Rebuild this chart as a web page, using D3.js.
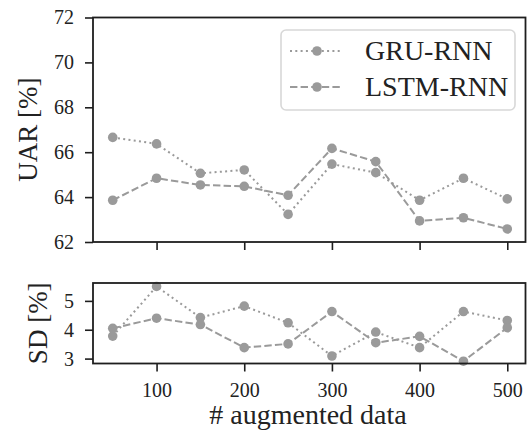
<!DOCTYPE html>
<html>
<head>
<meta charset="utf-8">
<script src="https://cdn.jsdelivr.net/npm/d3@7"></script>
<style>
  body { margin: 0; background: #fff; }
</style>
</head>
<body>
<script>
const augmented = [50, 100, 150, 200, 250, 300, 350, 400, 450, 500];
const gruUar = [66.66, 66.37, 65.06, 65.21, 63.23, 65.47, 65.09, 63.86, 64.84, 63.92];
const lstmUar = [63.86, 64.84, 64.54, 64.48, 64.08, 66.17, 65.58, 62.94, 63.08, 62.58];
const gruSd = [3.78, 5.5, 4.42, 4.82, 4.24, 3.09, 3.92, 3.38, 4.63, 4.32];
const lstmSd = [4.05, 4.4, 4.18, 3.38, 3.51, 4.63, 3.55, 3.77, 2.91, 4.07];
const uarTicks = [62, 64, 66, 68, 70, 72];
const sdTicks = [3, 4, 5];
const xTicks = [100, 200, 300, 400, 500];
const seriesNames = ["GRU-RNN", "LSTM-RNN"];

const width = 527;
const height = 434;
const fontFamily = "Liberation Serif";
const lineColor = "#9a9a9a";
const spineColor = "#1e1e1e";
const textColor = "#222";
const dotDash = "2,3.3";
const longDash = "7.4,3.2";

const svg = d3
  .select("body")
  .append("svg")
  .attr("width", width)
  .attr("height", height)
  .attr("font-family", fontFamily);

const xScale = d3.scaleLinear().domain([27.5, 522.5]).range([93, 527]);
const yTop = d3.scaleLinear().domain([62, 72]).range([242, 17.5]);
const yBottom = d3.scaleLinear().domain([2.83, 5.62]).range([363.5, 283]);

const styleTicks = (sel) => {
  sel.select(".domain").remove();
  sel.selectAll("line").attr("stroke", spineColor).attr("stroke-width", 1.6);
  sel
    .selectAll("text")
    .attr("font-family", fontFamily)
    .attr("font-size", 20)
    .attr("fill", textColor);
};

const drawPanel = (yScale, yTicks, series, showXLabels) => {
  const [y0, y1] = yScale.range();
  const g = svg.append("g");

  // series first, frame on top
  series.forEach((s) => {
    const line = d3
      .line()
      .x((d, i) => xScale(augmented[i]))
      .y((d) => yScale(d));
    g.append("path")
      .datum(s.values)
      .attr("d", line)
      .attr("fill", "none")
      .attr("stroke", lineColor)
      .attr("stroke-width", 2)
      .attr("stroke-dasharray", s.dash);
    g.selectAll(null)
      .data(s.values)
      .enter()
      .append("circle")
      .attr("cx", (d, i) => xScale(augmented[i]))
      .attr("cy", (d) => yScale(d))
      .attr("r", 4.8)
      .attr("fill", lineColor);
  });

  const yAxis = d3
    .axisLeft(yScale)
    .tickValues(yTicks)
    .tickSize(8)
    .tickPadding(11)
    .tickFormat(d3.format("d"));
  g.append("g")
    .attr("transform", `translate(${xScale.range()[0]}, 0)`)
    .call(yAxis)
    .call(styleTicks);

  const xAxis = d3
    .axisBottom(xScale)
    .tickValues(xTicks)
    .tickSize(8)
    .tickPadding(11)
    .tickFormat(showXLabels ? d3.format("d") : "");
  g.append("g")
    .attr("transform", `translate(0, ${y0})`)
    .call(xAxis)
    .call(styleTicks);

  g.append("rect")
    .attr("x", xScale.range()[0])
    .attr("y", y1)
    .attr("width", xScale.range()[1] - xScale.range()[0] - 1.5)
    .attr("height", y0 - y1)
    .attr("fill", "none")
    .attr("stroke", spineColor)
    .attr("stroke-width", 1.8);
};

const seriesTop = [
  { name: seriesNames[0], values: gruUar, dash: dotDash },
  { name: seriesNames[1], values: lstmUar, dash: longDash },
];
const seriesBottom = [
  { name: seriesNames[0], values: gruSd, dash: dotDash },
  { name: seriesNames[1], values: lstmSd, dash: longDash },
];

drawPanel(yTop, uarTicks, seriesTop, false);
drawPanel(yBottom, sdTicks, seriesBottom, true);

// axis labels
svg
  .append("text")
  .attr("transform", `translate(37, ${(yTop.range()[0] + yTop.range()[1]) / 2}) rotate(-90)`)
  .attr("text-anchor", "middle")
  .attr("font-size", 27)
  .attr("fill", textColor)
  .text("UAR [%]");

svg
  .append("text")
  .attr("transform", `translate(47, ${(yBottom.range()[0] + yBottom.range()[1]) / 2}) rotate(-90)`)
  .attr("text-anchor", "middle")
  .attr("font-size", 27)
  .attr("fill", textColor)
  .text("SD [%]");

svg
  .append("text")
  .attr("x", 308)
  .attr("y", 424)
  .attr("text-anchor", "middle")
  .attr("font-size", 28)
  .attr("fill", textColor)
  .text("# augmented data");

// legend
const legend = svg.append("g").attr("transform", "translate(281, 30)");
legend
  .append("rect")
  .attr("width", 234)
  .attr("height", 80)
  .attr("rx", 5)
  .attr("fill", "rgba(255,255,255,0.85)")
  .attr("stroke", "#d8d8d8")
  .attr("stroke-width", 1.6);

seriesTop.forEach((s, i) => {
  const row = legend.append("g").attr("transform", `translate(0, ${21 + i * 36})`);
  row
    .append("line")
    .attr("x1", 9)
    .attr("x2", 62)
    .attr("stroke", lineColor)
    .attr("stroke-width", 2)
    .attr("stroke-dasharray", s.dash);
  row.append("circle").attr("cx", 36).attr("r", 4.8).attr("fill", lineColor);
  row
    .append("text")
    .attr("x", 84)
    .attr("y", 9)
    .attr("font-size", 28)
    .attr("fill", textColor)
    .text(s.name);
});
</script>
</body>
</html>
